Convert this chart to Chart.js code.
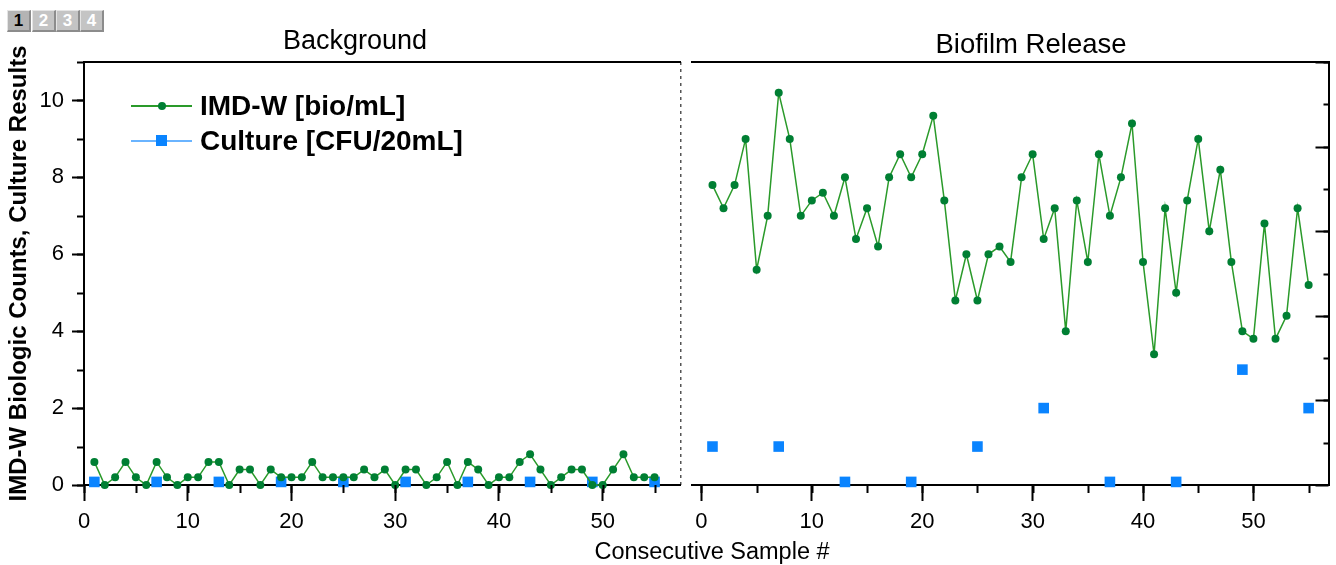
<!DOCTYPE html>
<html>
<head>
<meta charset="utf-8">
<script src="https://cdn.jsdelivr.net/npm/chart.js@4.4.0/dist/chart.umd.min.js"></script>
<style>
  body { margin: 0; width: 1336px; height: 565px; background: #fff; position: relative; overflow: hidden;
         font-family: "Liberation Sans", Arial, sans-serif; color: #000; }
  .tab { position: absolute; top: 10px; width: 21px; height: 19px; background: #c4c4c4;
         border-top: 1px solid #e4e4e4; border-left: 1px solid #e4e4e4;
         border-right: 2px solid #8c8c8c; border-bottom: 2px solid #8c8c8c;
         color: #fff; font: bold 17px "Liberation Sans", Arial, sans-serif; text-align: center; line-height: 19px; }
  .tab.on { background: #b4b4b4; color: #000; }
  .label { position: absolute; transform: translate(-50%, -50%); white-space: nowrap; }
  #legend { position: absolute; left: 131px; top: 0; }
  .row { position: absolute; left: 0; height: 32px; transform: translateY(-50%); white-space: nowrap; }
  .row .ln { position: absolute; left: 0; top: 15px; width: 61px; height: 2px; }
  .row .mk { position: absolute; }
  .row .tx { position: absolute; left: 69px; top: 0; line-height: 32px; font: bold 28px "Liberation Sans", Arial, sans-serif; }
  #boxL { position: absolute; left: 0; top: 0; }
  #boxR { position: absolute; left: 684px; top: 0; }
</style>
</head>
<body>

<div class="tab on" style="left:7px">1</div>
<div class="tab" style="left:32px">2</div>
<div class="tab" style="left:56px">3</div>
<div class="tab" style="left:80px">4</div>

<div id="boxL"><canvas id="chartL" width="688" height="565"></canvas></div>
<div id="boxR"><canvas id="chartR" width="652" height="565"></canvas></div>

<div class="label" style="left:355px; top:40px; font-size:27px">Background</div>
<div class="label" style="left:1031px; top:44px; font-size:27.5px">Biofilm Release</div>
<div class="label" style="left:712px; top:551px; font-size:23.5px">Consecutive Sample #</div>

<div id="legend"></div>

<script>
// data

const sampleNo = [1, 2, 3, 4, 5, 6, 7, 8, 9, 10, 11, 12, 13, 14, 15, 16, 17, 18, 19, 20,
    21, 22, 23, 24, 25, 26, 27, 28, 29, 30, 31, 32, 33, 34, 35, 36, 37, 38, 39, 40,
    41, 42, 43, 44, 45, 46, 47, 48, 49, 50, 51, 52, 53, 54, 55];

const imdBackground = [0.6, 0, 0.2, 0.6, 0.2, 0, 0.6, 0.2, 0, 0.2, 0.2, 0.6, 0.6, 0, 0.4, 0.4, 0, 0.4, 0.2, 0.2,
    0.2, 0.6, 0.2, 0.2, 0.2, 0.2, 0.4, 0.2, 0.4, 0, 0.4, 0.4, 0, 0.2, 0.6, 0, 0.6, 0.4, 0, 0.2,
    0.2, 0.6, 0.8, 0.4, 0, 0.2, 0.4, 0.4, 0, 0, 0.4, 0.8, 0.2, 0.2, 0.2];

const imdBiofilm = [7.8, 7.2, 7.8, 9.0, 5.6, 7.0, 10.2, 9.0, 7.0, 7.4, 7.6, 7.0, 8.0, 6.4, 7.2, 6.2, 8.0, 8.6, 8.0, 8.6,
    9.6, 7.4, 4.8, 6.0, 4.8, 6.0, 6.2, 5.8, 8.0, 8.6, 6.4, 7.2, 4.0, 7.4, 5.8, 8.6, 7.0, 8.0, 9.4, 5.8,
    3.4, 7.2, 5.0, 7.4, 9.0, 6.6, 8.2, 5.8, 4.0, 3.8, 6.8, 3.8, 4.4, 7.2, 5.2];

const cultureSamples = [1, 7, 13, 19, 25, 31, 37, 43, 49, 55];
const cultureBackground = [0.08, 0.08, 0.08, 0.08, 0.08, 0.08, 0.08, 0.08, 0.08, 0.08];
const cultureBiofilm = [1, 1, 0.08, 0.08, 1, 2, 0.08, 0.08, 3, 2];

const seriesLabels = ["IMD-W [bio/mL]", "Culture [CFU/20mL]"];
const yTitle = "IMD-W Biologic Counts, Culture Results";

// styles

const lineGreen = "#2a9a2a";
const dotGreen = "#007f33";
const cultureBlue = "#0a84ff";
const legendBlue = "#6ab4ff";
const tickFont = { family: "'Liberation Sans', Arial, sans-serif", size: 22 };

function pairs(xs, ys) {
    return xs.map((x, i) => ({ x: x, y: ys[i] }));
}

function makeDatasets(imd, culture) {
    return [{
        label: seriesLabels[0],
        data: pairs(sampleNo, imd),
        borderColor: lineGreen,
        borderWidth: 1.5,
        pointRadius: 4,
        pointBackgroundColor: dotGreen,
        pointBorderWidth: 0,
        tension: 0,
        clip: false
    }, {
        label: seriesLabels[1],
        data: pairs(cultureSamples, culture),
        showLine: false,
        pointStyle: "rect",
        pointRadius: 7.5,
        pointBackgroundColor: cultureBlue,
        pointBorderWidth: 0,
        clip: false
    }];
}

// extra tick marks (minor ticks and inward ticks) placed with the chart's own scales
function tickMarks(marks) {
    return {
        id: "tickMarks",
        afterDraw(chart) {
            const ctx = chart.ctx;
            ctx.save();
            ctx.strokeStyle = "#000";
            ctx.lineWidth = 2;
            marks.forEach(m => {
                const scale = chart.scales[m.axis];
                ctx.beginPath();
                for (let v = m.from; v <= scale.max + 1e-9; v += m.step) {
                    const p = Math.round(scale.getPixelForValue(v)) + 0.5;
                    if (scale.position === "bottom") {
                        ctx.moveTo(p, scale.top);
                        ctx.lineTo(p, scale.top + m.len);
                    } else if (scale.position === "left") {
                        ctx.moveTo(scale.right, p);
                        ctx.lineTo(scale.right - m.len, p);
                    } else {
                        ctx.moveTo(scale.left, p);
                        ctx.lineTo(scale.left - m.len, p);
                    }
                }
                ctx.stroke();
            });
            ctx.restore();
        }
    };
}

const borderLine = { color: "#000", width: 2 };

function xAxis(min, max) {
    return {
        type: "linear", position: "bottom", min: min, max: max,
        afterFit: s => { s.height = 80; },
        ticks: { stepSize: 10, includeBounds: false, padding: 8, color: "#000", font: tickFont, maxRotation: 0 },
        grid: { drawOnChartArea: false, tickLength: 16, tickWidth: 2, tickColor: "#000" },
        border: borderLine
    };
}

const topAxis = {
    type: "linear", position: "top", min: 0, max: 1,
    ticks: { display: false },
    grid: { display: false, drawTicks: false },
    border: borderLine
};

// left panel: Background

const chartL = new Chart(document.getElementById("chartL"), {
    type: "line",
    data: { datasets: makeDatasets(imdBackground, cultureBackground) },
    options: {
        responsive: false,
        animation: false,
        layout: { padding: { top: 62, right: 3, left: 0, bottom: 0 } },
        plugins: { legend: { display: false }, tooltip: { enabled: false } },
        scales: {
            x: xAxis(0, 57.5),
            xTop: topAxis,
            // dotted divider between the two panels, drawn as the last grid line
            xDivider: {
                type: "linear", position: "top", min: 0, max: 1,
                ticks: { display: false, stepSize: 1 },
                grid: {
                    drawTicks: false, lineWidth: 1.5,
                    color: c => c.tick && c.tick.value === 1 ? "#555" : "rgba(0,0,0,0)"
                },
                border: { display: false, dash: [3, 4] }
            },
            y: {
                min: 0, max: 11,
                afterFit: s => { s.width = 84; },
                title: {
                    display: true, text: yTitle, color: "#000",
                    font: { family: "'Liberation Sans', Arial, sans-serif", size: 24, weight: "bold" },
                    padding: { top: 5, bottom: 0 }
                },
                ticks: { stepSize: 2, includeBounds: false, padding: 8, color: "#000", font: tickFont },
                grid: { drawOnChartArea: false, tickLength: 12, tickWidth: 2, tickColor: "#000" },
                border: borderLine
            }
        }
    },
    plugins: [tickMarks([
        { axis: "x", from: 0, step: 5, len: 8 },
        { axis: "y", from: 0, step: 1, len: 7 }
    ])]
});

// right panel: Biofilm Release

const chartR = new Chart(document.getElementById("chartR"), {
    type: "line",
    data: { datasets: makeDatasets(imdBiofilm, cultureBiofilm) },
    options: {
        responsive: false,
        animation: false,
        layout: { padding: { top: 62, right: 0, left: 2, bottom: 0 } },
        plugins: { legend: { display: false }, tooltip: { enabled: false } },
        scales: {
            x: xAxis(-0.9, 56.8),
            xTop: topAxis,
            y: { display: false, min: 0, max: 11 },
            y2: {
                position: "right", min: 0, max: 10,
                afterFit: s => { s.width = 3; },
                ticks: { display: false },
                grid: { display: false, drawTicks: false },
                border: borderLine
            }
        }
    },
    plugins: [tickMarks([
        { axis: "x", from: 0, step: 5, len: 8 },
        { axis: "y2", from: 1, step: 1, len: 5 },
        { axis: "y2", from: 0, step: 2, len: 13 }
    ])]
});

// legend inside the left panel

const legend = document.getElementById("legend");
const legendRows = [
    { top: 106, line: lineGreen, marker: "dot" },
    { top: 141, line: legendBlue, marker: "square" }
];
chartL.data.datasets.forEach((ds, i) => {
    const r = legendRows[i];
    const row = document.createElement("div");
    row.className = "row";
    row.style.top = r.top + "px";
    const ln = document.createElement("span");
    ln.className = "ln";
    ln.style.background = r.line;
    const mk = document.createElement("span");
    mk.className = "mk";
    if (r.marker === "dot") {
        mk.style.cssText = "left:27px;top:12px;width:8px;height:8px;border-radius:50%;background:" + dotGreen;
    } else {
        mk.style.cssText = "left:25px;top:10px;width:11px;height:11px;background:" + cultureBlue;
    }
    const tx = document.createElement("span");
    tx.className = "tx";
    tx.textContent = ds.label;
    row.appendChild(ln);
    row.appendChild(mk);
    row.appendChild(tx);
    legend.appendChild(row);
});
</script>
</body>
</html>
